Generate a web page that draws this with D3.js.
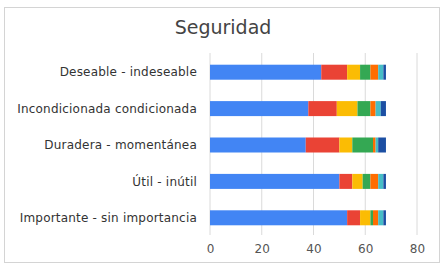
<!doctype html>
<html lang="en">
<head>
<meta charset="utf-8">
<style>
    body { margin: 0; background: #fff; }
    svg { display: block; font-family: "DejaVu Sans", sans-serif; }
</style>
<script src="https://d3js.org/d3.v7.min.js"></script>
</head>
<body>
<svg width="443" height="271"></svg>
<script>
    const categories = ["Deseable - indeseable", "Incondicionada condicionada", "Duradera - momentánea", "Útil - inútil", "Importante - sin importancia"];
    const seriesNames = ["s1", "s2", "s3", "s4", "s5", "s6", "s7"];
    const s1 = [43, 38, 37, 50, 53];
    const s2 = [10, 11, 13, 5, 5];
    const s3 = [5, 8, 5, 4, 4];
    const s4 = [4, 5, 8, 3, 1];
    const s5 = [3, 2, 1, 3, 2];
    const s6 = [2, 2, 1, 2, 2];
    const s7 = [1, 2, 3, 1, 1];
    const xTicks = [0, 20, 40, 60, 80];
    const colors = ["#4285f4", "#ea4335", "#fbbc04", "#34a853", "#ff6d01", "#46bdc6", "#1c4fa3"];

    const allSeries = [s1, s2, s3, s4, s5, s6, s7];
    const rows = categories.map((c, i) => {
        const r = { cat: c };
        seriesNames.forEach((s, j) => r[s] = allSeries[j][i]);
        return r;
    });
    const stacked = d3.stack().keys(seriesNames)(rows);

    const svg = d3.select("svg");

    // border
    svg.append("rect")
        .attr("x", 4.5).attr("y", 7.5)
        .attr("width", 435).attr("height", 255)
        .attr("fill", "#fff")
        .attr("stroke", "#d4d4d4");

    svg.append("text")
        .attr("x", 223).attr("y", 34)
        .attr("text-anchor", "middle")
        .attr("font-size", 19)
        .attr("fill", "#444")
        .text("Seguridad");

    const x = d3.scaleLinear().domain([0, 80]).range([210, 417]);
    const y = d3.scaleBand().domain(categories).range([54, 236])
        .paddingInner(0.588).paddingOuter(0.294);

    // gridlines
    svg.append("g")
        .selectAll("line")
        .data(xTicks)
        .enter()
        .append("line")
        .attr("x1", d => x(d)).attr("x2", d => x(d))
        .attr("y1", 53).attr("y2", 235)
        .attr("stroke", "#dadada")
        .attr("stroke-width", 1);

    svg.selectAll(".layer")
        .data(stacked)
        .enter()
        .append("g")
        .attr("class", "layer")
        .attr("fill", (d, i) => colors[i])
        .selectAll("rect")
        .data(d => d)
        .enter()
        .append("rect")
        .attr("x", d => x(d[0]))
        .attr("y", d => y(d.data.cat))
        .attr("width", d => x(d[1]) - x(d[0]))
        .attr("height", y.bandwidth());

    // y labels
    svg.append("g")
        .selectAll("text")
        .data(categories)
        .enter()
        .append("text")
        .attr("x", 197)
        .attr("y", d => y(d) + y.bandwidth() / 2)
        .attr("dy", "0.35em")
        .attr("text-anchor", "end")
        .attr("font-size", 12)
        .attr("letter-spacing", 0.2)
        .attr("fill", "#333")
        .text(d => d);

    // x tick labels
    const xAxis = svg.append("g")
        .attr("transform", "translate(0,235)")
        .call(d3.axisBottom(x).tickValues(xTicks).tickSize(0).tickPadding(9));
    xAxis.select(".domain").remove();
    xAxis.selectAll("text")
        .attr("font-size", 12)
        .attr("font-family", "DejaVu Sans, sans-serif")
        .attr("fill", "#555");
</script>
</body>
</html>
